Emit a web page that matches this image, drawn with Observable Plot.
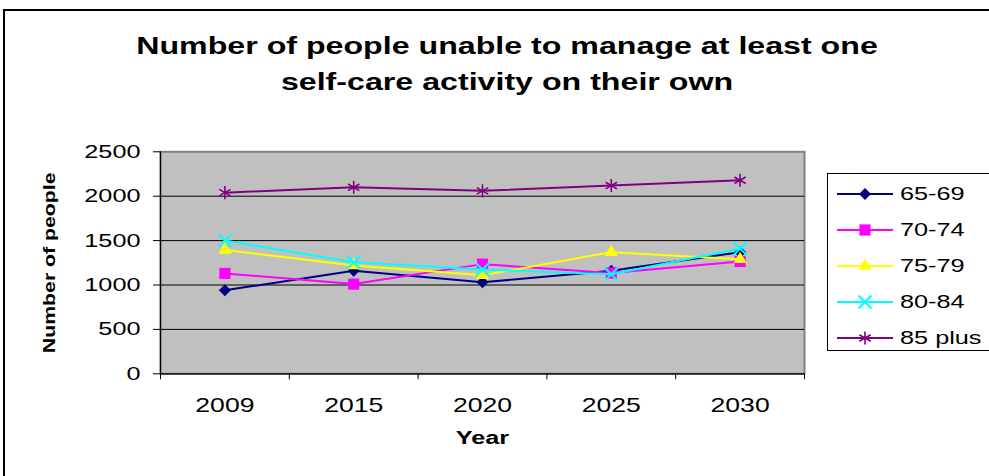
<!DOCTYPE html>
<html>
<head>
<meta charset="utf-8">
<script src="https://cdn.jsdelivr.net/npm/d3@7"></script>
<script src="https://cdn.jsdelivr.net/npm/@observablehq/plot@0.6"></script>
<style>
  body { margin: 0; background: #fff; font-family: "Liberation Sans", Arial, sans-serif; }
  #wrap { position: relative; width: 989px; height: 476px; overflow: hidden; background: #fff; }
  #border { position: absolute; left: 3px; top: 9px; width: 1100px; height: 600px; border: 2px solid #000; box-sizing: border-box; }
  #title { position: relative; height: 110px; box-sizing: border-box; padding-top: 28px; padding-left: 25px;
           text-align: center; font-weight: bold; font-size: 24px; line-height: 36px; color: #000; }
  #title div { transform: scaleX(1.34); transform-origin: center; white-space: nowrap; }
  #chart { position: relative; }
  #legend { position: absolute; left: 827px; top: 173px; width: 300px; height: 178px; border: 1px solid #000; box-sizing: border-box; background: #fff; }
  .lrow { position: absolute; left: 0; height: 20px; }
  .ltext { position: absolute; left: 72px; top: 0; font-size: 19px; line-height: 20px; white-space: nowrap; transform: scaleX(1.33); transform-origin: left center; }
  .lsym { position: absolute; left: 9px; top: 0; }
</style>
</head>
<body>
<div id="wrap">
  <div id="border"></div>
  <div id="title"><div>Number of people unable to manage at least one</div><div>self-care activity on their own</div></div>
  <div id="chart"></div>
  <div id="legend"></div>
</div>
<script>
// ---- data ----
const years = ["2009", "2015", "2020", "2025", "2030"];
const seriesNames = ["65-69", "70-74", "75-79", "80-84", "85 plus"];
const v65_69  = [940, 1160, 1030, 1160, 1370];
const v70_74  = [1130, 1010, 1235, 1135, 1265];
const v75_79  = [1395, 1220, 1110, 1370, 1290];
const v80_84  = [1500, 1255, 1175, 1120, 1410];
const v85plus = [2040, 2100, 2060, 2120, 2180];
const yTicks = [0, 500, 1000, 1500, 2000, 2500];

// ---- styles ----
const colors  = ["#000080", "#FF00FF", "#FFFF00", "#00FFFF", "#800080"];
const symbols = ["diamond2", "square", "triangle", "times", "asterisk"];
const d3syms  = [d3.symbolDiamond2, d3.symbolSquare, d3.symbolTriangle, d3.symbolTimes, d3.symbolAsterisk];
const radii   = [5.4, 6.3, 4.9, 6.0, 6.2];
const filled  = [true, true, true, false, false];

const allValues = [v65_69, v70_74, v75_79, v80_84, v85plus];
const idx = years.map((d, i) => i);
const bounds = [-0.5, 0.5, 1.5, 2.5, 3.5, 4.5];

const seriesMarks = [];
allValues.forEach((vals, k) => {
  const rows = vals.map((v, i) => ({i, v}));
  seriesMarks.push(Plot.line(rows, {x: "i", y: "v", stroke: colors[k], strokeWidth: 2}));
  seriesMarks.push(Plot.dot(rows, filled[k]
    ? {x: "i", y: "v", symbol: symbols[k], r: radii[k], fill: colors[k], stroke: "none"}
    : {x: "i", y: "v", symbol: symbols[k], r: radii[k], fill: "none", stroke: colors[k], strokeWidth: k === 3 ? 2 : 1.6}));
});

const plot = Plot.plot({
  width: 989,
  height: 366,
  marginLeft: 160,
  marginRight: 185,
  marginTop: 41.3,
  marginBottom: 102.7,
  style: {background: "transparent", fontFamily: "'Liberation Sans', Arial, sans-serif", color: "#000", overflow: "visible"},
  x: {domain: [-0.5, 4.5], label: null},
  y: {domain: [0, 2500], label: null},
  marks: [
    Plot.frame({fill: "#c0c0c0", stroke: "#808080", strokeWidth: 2}),
    Plot.ruleY(yTicks.filter(d => d > 0 && d < 2500), {stroke: "#000", strokeWidth: 1}),
    ...seriesMarks,
    Plot.ruleX([-0.5], {stroke: "#000", strokeWidth: 1.2}),
    Plot.ruleY([0], {stroke: "#000", strokeWidth: 1.2}),
    Plot.axisY({ticks: yTicks, tickSize: 7, tickPadding: 13, tickFormat: d => String(d), fontSize: 19, label: null, stroke: "#000"}),
    Plot.axisX({ticks: bounds, tickSize: 6, tickFormat: () => "", label: null, stroke: "#000"}),
    Plot.axisX({ticks: idx, tickSize: 0, tickPadding: 24, tickFormat: i => years[i], fontSize: 20, label: null}),
    Plot.text(["Number of people"], {frameAnchor: "left", textAnchor: "middle", dx: -111, rotate: -90, fontWeight: "bold", fontSize: 16, fill: "#000"}),
    Plot.text(["Year"], {frameAnchor: "bottom", dy: 70, fontWeight: "bold", fontSize: 19, fill: "#000"})
  ]
});

// stretch text horizontally (along text direction) like the reference rendering
const S = 1.33;
d3.select(plot).selectAll("text").each(function () {
  const t = this.getAttribute("transform");
  if (t) {
    this.setAttribute("transform", t + ` scale(${S},1)`);
  } else {
    const x = +(this.getAttribute("x") || 0), y = +(this.getAttribute("y") || 0);
    this.removeAttribute("x"); this.removeAttribute("y");
    this.setAttribute("transform", `translate(${x},${y}) scale(${S},1)`);
  }
});
document.getElementById("chart").appendChild(plot);

// ---- legend ----
const legend = document.getElementById("legend");
seriesNames.forEach((name, k) => {
  const row = document.createElement("div");
  row.className = "lrow";
  row.style.top = (10 + 36 * k) + "px";
  row.style.width = "200px";
  const svg = d3.create("svg").attr("class", "lsym").attr("width", 60).attr("height", 20);
  svg.append("line").attr("x1", 0).attr("x2", 56).attr("y1", 10).attr("y2", 10)
    .attr("stroke", colors[k]).attr("stroke-width", 2);
  const path = d3.symbol().type(d3syms[k]).size(Math.PI * radii[k] * radii[k])();
  svg.append("path").attr("d", path).attr("transform", "translate(28,10)")
    .attr("fill", filled[k] ? colors[k] : "none")
    .attr("stroke", filled[k] ? "none" : colors[k])
    .attr("stroke-width", k === 3 ? 2 : 1.6);
  row.appendChild(svg.node());
  const txt = document.createElement("div");
  txt.className = "ltext";
  txt.textContent = name;
  row.appendChild(txt);
  legend.appendChild(row);
});
</script>
</body>
</html>
